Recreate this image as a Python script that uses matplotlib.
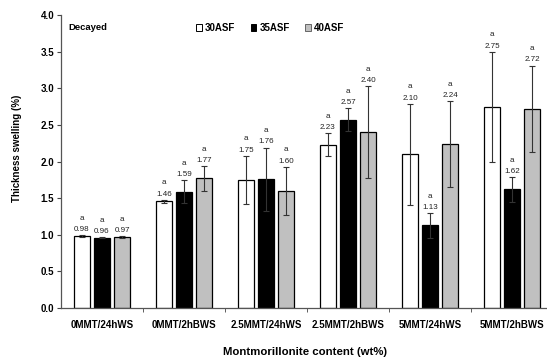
import matplotlib
matplotlib.use("Agg")
import matplotlib.pyplot as plt
import numpy as np
from matplotlib.patches import Patch

categories = ["0MMT/24hWS", "0MMT/2hBWS", "2.5MMT/24hWS", "2.5MMT/2hBWS", "5MMT/24hWS", "5MMT/2hBWS"]
series_names = ["30ASF", "35ASF", "40ASF"]
vals_30 = [0.98, 1.46, 1.75, 2.23, 2.10, 2.75]
vals_35 = [0.96, 1.59, 1.76, 2.57, 1.13, 1.62]
vals_40 = [0.97, 1.77, 1.60, 2.40, 2.24, 2.72]
err_30 = [0.01, 0.02, 0.33, 0.16, 0.69, 0.75]
err_35 = [0.005, 0.16, 0.43, 0.16, 0.17, 0.17]
err_40 = [0.01, 0.17, 0.33, 0.63, 0.59, 0.59]
letters = ["a"] * 6
yticks = [0.0, 0.5, 1.0, 1.5, 2.0, 2.5, 3.0, 3.5, 4.0]

colors = ["white", "black", "#c0c0c0"]
FONT = "Liberation Sans"

fig = plt.figure(figsize=(5.47, 3.6), dpi=100)
W, H = 547, 360
ax = fig.add_axes([61 / W, 1 - 308 / H, 492 / W, (308 - 15) / H])

x = np.arange(len(categories))
width = 0.2
offs = [-0.245, 0.0, 0.245]
all_vals = [vals_30, vals_35, vals_40]
all_errs = [err_30, err_35, err_40]

for i in range(3):
    ax.bar(x + offs[i], all_vals[i], width, color=colors[i], edgecolor="black",
           linewidth=0.9, zorder=2)
    ax.errorbar(x + offs[i], all_vals[i], yerr=all_errs[i], fmt="none",
                ecolor="#333333", elinewidth=0.8, capsize=2, capthick=0.8, zorder=3)
    for j in range(len(x)):
        top = all_vals[i][j] + all_errs[i][j]
        ax.annotate(f"{all_vals[i][j]:.2f}", (x[j] + offs[i], top), xytext=(0, 1.5),
                    textcoords="offset points", ha="center", va="bottom",
                    fontsize=5.8, family=FONT, color="#222222")
        ax.annotate(letters[j], (x[j] + offs[i], top), xytext=(0, 9.5),
                    textcoords="offset points", ha="center", va="bottom",
                    fontsize=5.8, family=FONT, color="#222222")

ax.set_xlim(-0.5, 5.5)
ax.set_ylim(0, 4.0)
ax.set_yticks(yticks)
ax.set_yticklabels([f"{t:.1f}" for t in yticks], fontsize=7, fontweight="bold", family=FONT)
ax.set_xticks(x)
ax.set_xticklabels(categories, fontsize=7, fontweight="bold", family=FONT)
ax.tick_params(axis="x", which="major", length=0, pad=9)
ax.set_xticks(np.arange(0.5, 5.5, 1.0), minor=True)
ax.tick_params(axis="x", which="minor", length=3, direction="out", color="#444444")
ax.tick_params(axis="y", length=3, direction="out", color="#444444", pad=2)

for s in ["top", "right"]:
    ax.spines[s].set_visible(False)
for s in ["left", "bottom"]:
    ax.spines[s].set_color("#555555")
    ax.spines[s].set_linewidth(0.9)

fig.text(17 / W, 1 - 148 / H, "Thickness swelling (%)", rotation=90, ha="center", va="center",
         fontsize=7, fontweight="bold", family=FONT)
fig.text(305 / W, 1 - 352 / H, "Montmorillonite content (wt%)", ha="center", va="center",
         fontsize=8.2, fontweight="bold", family=FONT)
fig.text(68 / W, 1 - 28 / H, "Decayed", ha="left", va="center",
         fontsize=6.8, fontweight="bold", family=FONT)

handles = [Patch(facecolor=colors[i], edgecolor="black" if i != 2 else "#666666", linewidth=0.7)
           for i in range(3)]
leg = fig.legend(handles, series_names, loc="center", bbox_to_anchor=(270 / W, 1 - 28 / H),
                 ncol=3, frameon=False, handlelength=0.6, handleheight=0.6, handletextpad=0.3,
                 columnspacing=1.6, prop={"family": FONT, "weight": "bold", "size": 7})

fig.savefig("out.png", dpi=100)
